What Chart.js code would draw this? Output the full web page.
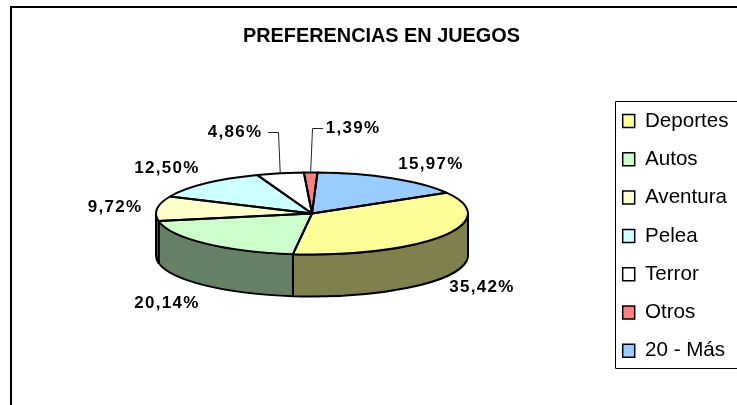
<!DOCTYPE html>
<html><head><meta charset="utf-8">
<style>html,body{margin:0;padding:0;background:#fff}#w{width:737px;height:405px}</style>
<script src="https://cdn.jsdelivr.net/npm/chart.js@4"></script>
</head><body><div id="w"><canvas id="c" width="737" height="405"></canvas></div>
<script>
const titleText = 'PREFERENCIAS EN JUEGOS';
const categories = ['Deportes','Autos','Aventura','Pelea','Terror','Otros','20 - Más'];
const percentages = [35.42,20.14,9.72,12.50,4.86,1.39,15.97];
const sliceColors = ['#FFFF99','#CCFFCC','#FFFFCC','#CCFFFF','#FFFFFF','#FF8080','#99CCFF'];
const labelCenters = [[482,287],[167,303],[115,207],[167,168],[235,132],[353,128],[431,164]];
const leaderElbows = [null,null,null,null,[[268,132],[278,132]],[[323,128],[312,128]],null];

const TILT = 41/156, DEPTH = 42, TWO_PI = Math.PI*2;
const dark = hex => '#'+[1,3,5].map(i=>Math.round(parseInt(hex.substr(i,2),16)/2).toString(16).padStart(2,'0')).join('');
const fmt = v => v.toFixed(2).replace('.',',')+'%';

const pie3d = {
  id:'pie3d',
  afterLayout(chart){
    chart.chartArea = {left:156,right:468,top:57,bottom:370,width:312,height:313};
    chart.legend.left = 605; chart.legend.right = 737;
    chart.legend.top = 93; chart.legend.bottom = 405;
    chart.titleBlock.left = 243; chart.titleBlock.right = 520;
    chart.titleBlock.top = 24; chart.titleBlock.bottom = 52;
  },
  beforeDraw(chart){
    const {ctx} = chart;
    ctx.save();
    ctx.strokeStyle='#000'; ctx.lineWidth=2;
    ctx.beginPath(); ctx.moveTo(11,405); ctx.lineTo(11,7); ctx.lineTo(737,7); ctx.stroke();
    ctx.lineWidth=1;
    ctx.beginPath(); ctx.moveTo(737,101.5); ctx.lineTo(615.5,101.5); ctx.lineTo(615.5,368.5); ctx.lineTo(737,368.5); ctx.stroke();
    ctx.restore();
  },
  beforeDatasetsDraw(chart){
    const {ctx} = chart, arcs = chart.getDatasetMeta(0).data;
    // side wall
    arcs.forEach((el,i)=>{
      const {x,y,startAngle,endAngle,outerRadius:r} = el.getProps(['x','y','startAngle','endAngle','outerRadius']);
      for (const shift of [0,TWO_PI,-TWO_PI]) {
        const a = Math.max(startAngle+shift,0), b = Math.min(endAngle+shift,Math.PI);
        if (b<=a) continue;
        ctx.save();
        ctx.beginPath();
        ctx.ellipse(x,y,r,r*TILT,0,a,b);
        ctx.ellipse(x,y+DEPTH,r,r*TILT,0,b,a,true);
        ctx.closePath();
        ctx.fillStyle = dark(sliceColors[i]);
        ctx.fill();
        ctx.strokeStyle='#000'; ctx.lineWidth=2; ctx.lineJoin='round';
        ctx.stroke();
        ctx.restore();
      }
    });
    const {x,y} = arcs[0];
    ctx.save();
    ctx.translate(x,y); ctx.scale(1,TILT); ctx.translate(-x,-y);
  },
  afterDatasetsDraw(chart){
    const {ctx} = chart, arcs = chart.getDatasetMeta(0).data;
    ctx.restore();
    ctx.save();
    ctx.strokeStyle='#000'; ctx.lineWidth=2; ctx.lineJoin='round';
    arcs.forEach(el=>{
      const {x,y,startAngle,endAngle,outerRadius:r} = el.getProps(['x','y','startAngle','endAngle','outerRadius']);
      ctx.beginPath();
      ctx.moveTo(x,y);
      ctx.ellipse(x,y,r,r*TILT,0,startAngle,endAngle);
      ctx.closePath();
      ctx.stroke();
    });
    ctx.restore();
    // leaders & labels
    ctx.save();
    arcs.forEach((el,i)=>{
      const {x,y,startAngle,endAngle,outerRadius:r} = el.getProps(['x','y','startAngle','endAngle','outerRadius']);
      if (leaderElbows[i]) {
        const m=(startAngle+endAngle)/2;
        ctx.strokeStyle='#222'; ctx.lineWidth=1;
        ctx.beginPath();
        leaderElbows[i].forEach((p,j)=> j?ctx.lineTo(p[0]+.5,p[1]+.5):ctx.moveTo(p[0],p[1]+.5));
        ctx.lineTo(x+r*Math.cos(m), y+r*TILT*Math.sin(m));
        ctx.stroke();
      }
      ctx.font='bold 17px "Liberation Sans"';
      ctx.letterSpacing='1.3px';
      ctx.textAlign='center'; ctx.textBaseline='middle';
      ctx.fillStyle='#000';
      ctx.fillText(fmt(percentages[i]),labelCenters[i][0],labelCenters[i][1]);
    });
    ctx.restore();
  }
};

new Chart(document.getElementById('c'),{
  type:'pie',
  data:{labels:categories,datasets:[{data:percentages,backgroundColor:sliceColors,borderWidth:0}]},
  options:{
    responsive:false,animation:false,
    rotation:59.5,radius:156,
    events:[],
    plugins:{
      tooltip:{enabled:false},
      title:{display:true,text:titleText,color:'#000',padding:0,font:{family:'"Liberation Sans"',size:20,weight:'bold'}},
      legend:{position:'right',align:'start',labels:{
        boxWidth:12,boxHeight:13,padding:17.7,color:'#000',
        font:{family:'"Liberation Sans"',size:20.6},
        generateLabels:()=>categories.map((t,i)=>({text:t,fillStyle:sliceColors[i],strokeStyle:'#000',lineWidth:1.5,hidden:false,index:i}))
      }}
    }
  },
  plugins:[pie3d]
});
</script></body></html>
